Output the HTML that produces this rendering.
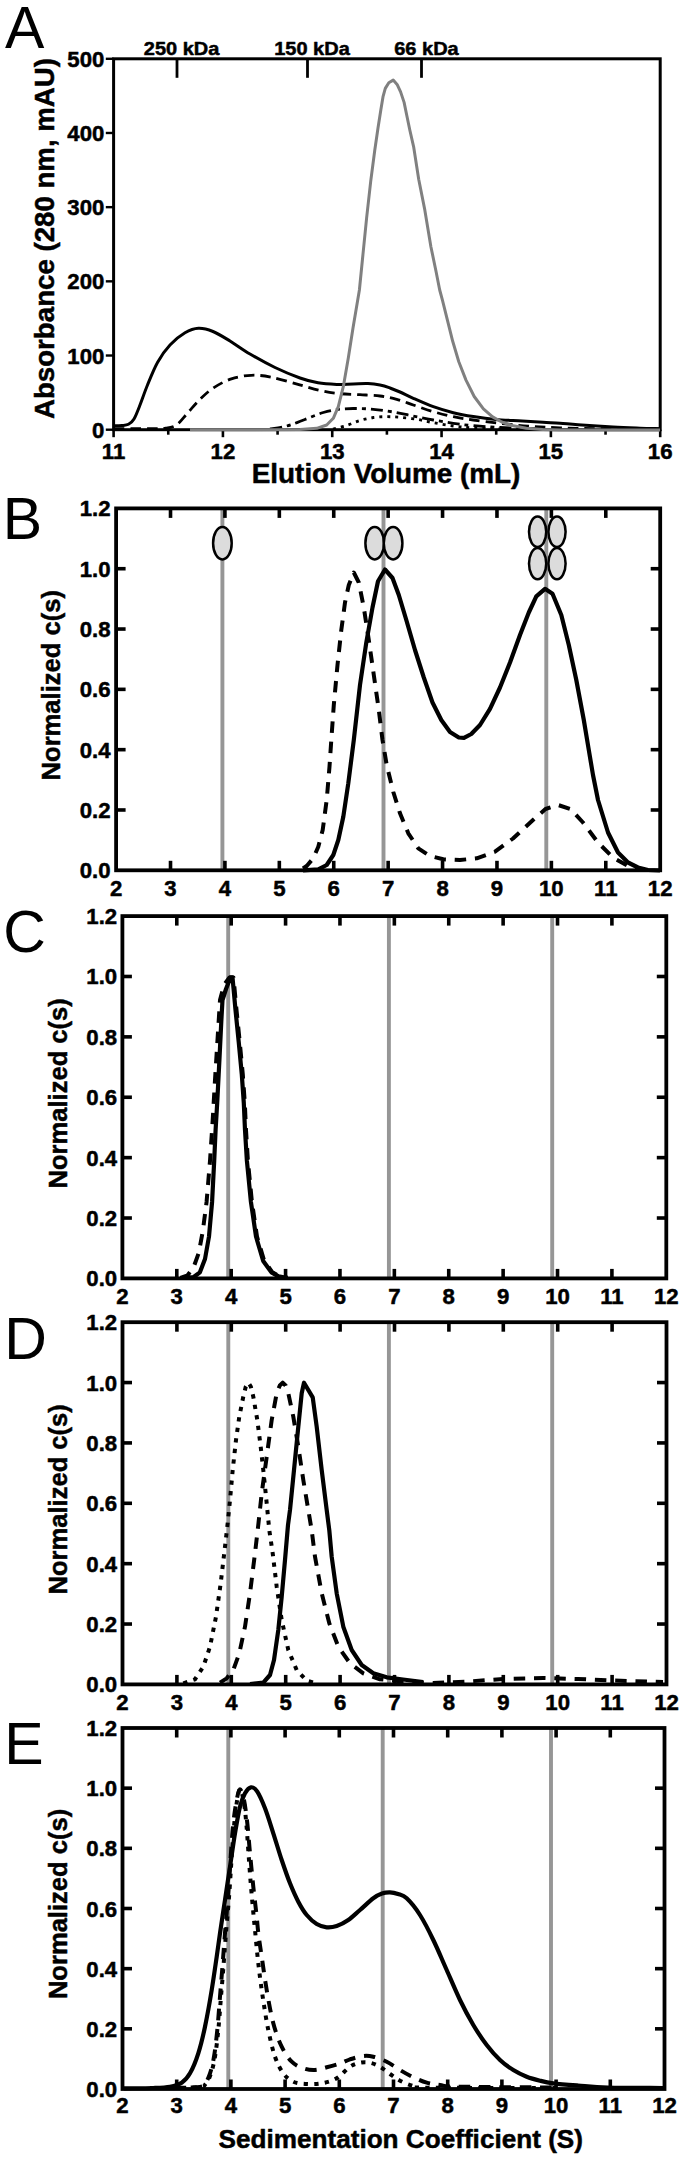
<!DOCTYPE html>
<html><head><meta charset="utf-8"><title>Figure</title>
<style>html,body{margin:0;padding:0;background:#fff}svg{display:block;font-family:"Liberation Sans",Arial,Helvetica,sans-serif}</style></head>
<body>
<svg width="685" height="2167" viewBox="0 0 685 2167">
<rect x="0" y="0" width="685" height="2167" fill="#fff"/>
<text x="5" y="48" font-size="59" text-anchor="start" >A</text>
<rect x="113.6" y="58.8" width="546.6" height="370.9" fill="none" stroke="#000" stroke-width="3"/>
<line x1="105.8" y1="429.7" x2="113.6" y2="429.7" stroke="#000" stroke-width="2.4" stroke-linecap="butt"/>
<text x="104.4" y="437.7" font-size="22.2" text-anchor="end" font-weight="bold" stroke="#000" stroke-width="0.5" stroke-linejoin="round" >0</text>
<line x1="105.8" y1="355.52" x2="113.6" y2="355.52" stroke="#000" stroke-width="2.4" stroke-linecap="butt"/>
<text x="104.4" y="363.52" font-size="22.2" text-anchor="end" font-weight="bold" stroke="#000" stroke-width="0.5" stroke-linejoin="round" >100</text>
<line x1="105.8" y1="281.34" x2="113.6" y2="281.34" stroke="#000" stroke-width="2.4" stroke-linecap="butt"/>
<text x="104.4" y="289.34" font-size="22.2" text-anchor="end" font-weight="bold" stroke="#000" stroke-width="0.5" stroke-linejoin="round" >200</text>
<line x1="105.8" y1="207.16" x2="113.6" y2="207.16" stroke="#000" stroke-width="2.4" stroke-linecap="butt"/>
<text x="104.4" y="215.16" font-size="22.2" text-anchor="end" font-weight="bold" stroke="#000" stroke-width="0.5" stroke-linejoin="round" >300</text>
<line x1="105.8" y1="132.97999999999996" x2="113.6" y2="132.97999999999996" stroke="#000" stroke-width="2.4" stroke-linecap="butt"/>
<text x="104.4" y="140.97999999999996" font-size="22.2" text-anchor="end" font-weight="bold" stroke="#000" stroke-width="0.5" stroke-linejoin="round" >400</text>
<line x1="105.8" y1="58.80000000000001" x2="113.6" y2="58.80000000000001" stroke="#000" stroke-width="2.4" stroke-linecap="butt"/>
<text x="104.4" y="66.80000000000001" font-size="22.2" text-anchor="end" font-weight="bold" stroke="#000" stroke-width="0.5" stroke-linejoin="round" >500</text>
<line x1="113.6" y1="429.7" x2="113.6" y2="437.2" stroke="#000" stroke-width="2.6" stroke-linecap="butt"/>
<text x="113.6" y="458.7" font-size="22.2" text-anchor="middle" font-weight="bold" stroke="#000" stroke-width="0.5" stroke-linejoin="round" >11</text>
<line x1="168.26" y1="429.7" x2="168.26" y2="434.7" stroke="#000" stroke-width="2.6" stroke-linecap="butt"/>
<line x1="222.92000000000002" y1="429.7" x2="222.92000000000002" y2="437.2" stroke="#000" stroke-width="2.6" stroke-linecap="butt"/>
<text x="222.92000000000002" y="458.7" font-size="22.2" text-anchor="middle" font-weight="bold" stroke="#000" stroke-width="0.5" stroke-linejoin="round" >12</text>
<line x1="277.58000000000004" y1="429.7" x2="277.58000000000004" y2="434.7" stroke="#000" stroke-width="2.6" stroke-linecap="butt"/>
<line x1="332.24" y1="429.7" x2="332.24" y2="437.2" stroke="#000" stroke-width="2.6" stroke-linecap="butt"/>
<text x="332.24" y="458.7" font-size="22.2" text-anchor="middle" font-weight="bold" stroke="#000" stroke-width="0.5" stroke-linejoin="round" >13</text>
<line x1="386.9" y1="429.7" x2="386.9" y2="434.7" stroke="#000" stroke-width="2.6" stroke-linecap="butt"/>
<line x1="441.56000000000006" y1="429.7" x2="441.56000000000006" y2="437.2" stroke="#000" stroke-width="2.6" stroke-linecap="butt"/>
<text x="441.56000000000006" y="458.7" font-size="22.2" text-anchor="middle" font-weight="bold" stroke="#000" stroke-width="0.5" stroke-linejoin="round" >14</text>
<line x1="496.22" y1="429.7" x2="496.22" y2="434.7" stroke="#000" stroke-width="2.6" stroke-linecap="butt"/>
<line x1="550.88" y1="429.7" x2="550.88" y2="437.2" stroke="#000" stroke-width="2.6" stroke-linecap="butt"/>
<text x="550.88" y="458.7" font-size="22.2" text-anchor="middle" font-weight="bold" stroke="#000" stroke-width="0.5" stroke-linejoin="round" >15</text>
<line x1="605.5400000000001" y1="429.7" x2="605.5400000000001" y2="434.7" stroke="#000" stroke-width="2.6" stroke-linecap="butt"/>
<line x1="660.2" y1="429.7" x2="660.2" y2="437.2" stroke="#000" stroke-width="2.6" stroke-linecap="butt"/>
<text x="660.2" y="458.7" font-size="22.2" text-anchor="middle" font-weight="bold" stroke="#000" stroke-width="0.5" stroke-linejoin="round" >16</text>
<line x1="177" y1="58.8" x2="177" y2="77.8" stroke="#000" stroke-width="2.8" stroke-linecap="butt"/>
<text x="181.6" y="55" font-size="18.6" text-anchor="middle" font-weight="bold" stroke="#000" stroke-width="0.5" stroke-linejoin="round" textLength="75.5" lengthAdjust="spacingAndGlyphs" >250 kDa</text>
<line x1="307.5" y1="58.8" x2="307.5" y2="77.8" stroke="#000" stroke-width="2.8" stroke-linecap="butt"/>
<text x="312" y="55" font-size="18.6" text-anchor="middle" font-weight="bold" stroke="#000" stroke-width="0.5" stroke-linejoin="round" textLength="75.5" lengthAdjust="spacingAndGlyphs" >150 kDa</text>
<line x1="421.5" y1="58.8" x2="421.5" y2="77.8" stroke="#000" stroke-width="2.8" stroke-linecap="butt"/>
<text x="426.5" y="55" font-size="18.6" text-anchor="middle" font-weight="bold" stroke="#000" stroke-width="0.5" stroke-linejoin="round" textLength="64.5" lengthAdjust="spacingAndGlyphs" >66 kDa</text>
<text x="54.3" y="419" font-size="28" text-anchor="start" font-weight="bold" stroke="#000" stroke-width="0.5" stroke-linejoin="round" textLength="361" lengthAdjust="spacingAndGlyphs" transform="rotate(-90 54.3 419)" >Absorbance (280 nm, mAU)</text>
<text x="251.8" y="483" font-size="27.6" text-anchor="start" font-weight="bold" stroke="#000" stroke-width="0.5" stroke-linejoin="round" textLength="268.6" lengthAdjust="spacingAndGlyphs" >Elution Volume (mL)</text>
<path d="M333.0,429.0C335.3,428.4 342.2,426.9 346.7,425.5C351.2,424.1 355.6,421.8 360.0,420.5C364.4,419.2 368.9,418.1 373.3,417.5C377.8,416.9 382.2,416.7 386.7,416.7C391.1,416.7 395.0,416.9 400.0,417.3C405.0,417.7 411.1,418.4 416.7,419.3C422.2,420.2 427.2,421.6 433.3,422.7C439.4,423.8 446.6,425.1 453.3,426.0C460.0,426.9 465.5,427.5 473.3,428.0C481.1,428.5 495.6,428.8 500.0,429.0" fill="none" stroke="#000" stroke-width="2.8" stroke-linejoin="round" stroke-linecap="butt" stroke-dasharray="3 5"/>
<path d="M270.0,429.0C272.5,428.6 280.5,427.6 285.0,426.5C289.5,425.4 292.8,424.1 297.0,422.6C301.2,421.1 305.6,419.2 310.0,417.5C314.4,415.8 318.9,413.8 323.3,412.5C327.8,411.2 331.7,410.3 336.7,409.6C341.7,408.9 347.2,408.6 353.3,408.5C359.4,408.4 366.6,408.7 373.3,409.3C380.0,409.9 386.6,410.9 393.3,412.0C400.0,413.1 406.6,414.7 413.3,416.0C420.0,417.3 426.6,418.8 433.3,420.0C440.0,421.2 446.6,422.4 453.3,423.3C460.0,424.2 465.5,425.0 473.3,425.7C481.1,426.4 488.9,427.0 500.0,427.5C511.1,428.0 533.3,428.6 540.0,428.8" fill="none" stroke="#000" stroke-width="2.8" stroke-linejoin="round" stroke-linecap="butt" stroke-dasharray="12 5 4 5"/>
<path d="M114.0,428.6C120.0,428.6 141.4,428.7 150.0,428.6C158.6,428.5 161.2,428.8 165.7,428.2C170.1,427.6 173.0,427.3 176.7,424.8C180.3,422.3 183.6,417.4 187.6,413.0C191.6,408.6 196.3,402.8 200.7,398.6C205.1,394.4 208.8,390.9 213.9,387.6C219.0,384.3 225.2,380.9 231.4,378.8C237.6,376.8 244.5,375.6 251.1,375.3C257.7,375.0 263.1,375.6 270.8,377.1C278.5,378.6 288.9,381.9 297.1,384.1C305.3,386.3 312.9,388.9 320.0,390.5C327.1,392.1 333.3,393.0 340.0,393.7C346.7,394.4 353.3,394.3 360.0,394.7C366.7,395.1 373.9,395.2 380.0,396.0C386.1,396.8 391.1,397.8 396.7,399.3C402.2,400.8 407.2,402.9 413.3,405.0C419.4,407.1 426.6,409.8 433.3,411.7C440.0,413.6 446.6,415.3 453.3,416.7C460.0,418.1 465.5,418.9 473.3,420.0C481.1,421.1 490.8,422.3 500.0,423.3C509.2,424.3 518.3,425.4 528.3,426.2C538.3,426.9 548.0,427.4 560.0,427.8C572.0,428.2 583.3,428.4 600.0,428.6C616.7,428.8 650.0,428.9 660.0,429.0" fill="none" stroke="#000" stroke-width="2.8" stroke-linejoin="round" stroke-linecap="butt" stroke-dasharray="10.5 6"/>
<path d="M114.0,425.7C115.3,425.7 119.6,425.7 122.0,425.5C124.4,425.3 126.5,425.4 128.5,424.3C130.5,423.2 132.1,422.2 134.0,419.0C135.9,415.8 137.8,410.7 140.0,405.0C142.2,399.3 144.6,392.1 147.5,385.0C150.4,377.9 153.8,369.2 157.5,362.5C161.2,355.8 165.4,349.9 170.0,345.0C174.6,340.1 180.2,335.6 185.0,332.8C189.8,330.0 193.8,328.5 198.5,328.3C203.2,328.1 207.8,329.4 213.0,331.5C218.2,333.6 223.8,337.2 230.0,341.0C236.2,344.8 242.5,349.6 250.0,354.0C257.5,358.4 266.7,363.5 275.0,367.5C283.3,371.5 292.8,375.4 300.0,378.0C307.2,380.6 311.9,381.7 318.0,382.8C324.1,383.9 330.8,384.2 336.7,384.4C342.6,384.6 348.1,384.0 353.3,383.9C358.5,383.8 363.6,383.4 368.0,383.6C372.4,383.8 376.3,384.3 380.0,385.0C383.7,385.7 386.7,386.8 390.0,388.0C393.3,389.2 396.1,390.3 400.0,392.0C403.9,393.7 407.8,395.9 413.3,398.3C418.9,400.8 426.6,404.3 433.3,406.7C440.0,409.1 446.6,411.0 453.3,412.7C460.0,414.4 466.2,415.5 473.3,416.6C480.4,417.7 487.5,418.7 495.6,419.4C503.8,420.1 514.3,420.5 522.2,421.0C530.1,421.5 536.7,421.8 543.0,422.2C549.3,422.6 554.2,422.8 560.0,423.2C565.8,423.6 569.2,424.2 578.0,424.8C586.8,425.4 602.7,426.4 613.0,427.0C623.3,427.6 632.2,427.9 640.0,428.2C647.8,428.5 656.7,428.6 660.0,428.7" fill="none" stroke="#000" stroke-width="3" stroke-linejoin="round" stroke-linecap="butt"/>
<path d="M190.0,429.8L250.0,429.8L300.0,429.4L316.7,428.3L326.7,425.0L333.3,418.3L338.3,406.7L343.3,386.7L348.3,358.0L353.0,328.0L359.4,290.0L362.5,259.0L366.6,218.1L370.7,181.3L374.7,150.7L378.0,128.0L380.9,109.4L383.1,96.3L385.3,88.4L388.8,82.7L393.2,80.1L397.1,84.4L400.6,91.9L404.1,102.4L406.8,115.5L409.8,130.0L413.6,146.6L418.7,179.3L424.8,209.9L430.9,246.7L436.0,271.2L439.7,290.0L442.5,300.4L447.6,320.9L452.7,341.3L458.8,361.8L466.0,380.1L474.2,396.5L483.4,408.8L492.6,416.9L501.8,422.0L512.0,425.5L526.3,428.2L542.6,429.6L560.0,430.0L600.0,430.0L660.0,430.0" fill="none" stroke="#808080" stroke-width="3" stroke-linejoin="round" stroke-linecap="butt"/>
<line x1="222.4" y1="508.4" x2="222.4" y2="870.3" stroke="#969696" stroke-width="3.9" stroke-linecap="butt"/>
<line x1="383.5" y1="508.4" x2="383.5" y2="870.3" stroke="#969696" stroke-width="3.9" stroke-linecap="butt"/>
<line x1="546.3" y1="508.4" x2="546.3" y2="870.3" stroke="#969696" stroke-width="3.9" stroke-linecap="butt"/>
<path d="M303.0,868.5L306.7,866.0L313.3,858.3L318.3,846.7L322.7,830.0L326.7,800.0L329.5,766.7L331.3,740.0L333.8,705.0L337.5,665.0L341.3,630.0L345.0,602.5L348.8,585.0L353.8,572.5L358.8,582.5L363.8,607.5L368.8,640.0L373.8,675.0L378.8,710.0L382.5,740.0L386.7,765.0L393.3,792.0L400.0,813.3L408.3,833.3L418.3,848.3L430.0,856.0L443.3,859.3L460.0,860.0L476.7,858.3L495.0,851.7L513.0,838.5L533.0,820.0L545.5,809.0L558.0,805.0L570.5,809.0L583.0,822.5L598.0,842.5L613.0,857.5L628.0,866.0L643.0,870.0" fill="none" stroke="#000" stroke-width="4" stroke-linejoin="round" stroke-linecap="butt" stroke-dasharray="11.5 8.8"/>
<path d="M303.0,870.3L318.3,869.3L326.7,865.0L333.3,855.0L338.3,840.0L343.3,816.7L348.3,783.3L353.8,740.0L360.0,685.0L366.3,642.5L372.5,607.5L378.0,581.3L385.0,569.5L392.5,578.0L398.8,595.0L406.3,620.0L415.0,650.0L423.8,677.5L432.5,702.5L441.3,720.0L450.0,732.0L458.8,737.5L464.0,737.8L471.3,734.0L480.0,725.0L490.0,708.8L500.0,687.5L510.0,662.5L520.0,635.0L528.8,612.5L536.3,596.3L545.0,588.8L552.5,593.8L561.3,615.0L568.8,645.0L576.3,680.0L583.8,720.0L588.8,750.0L593.0,775.0L598.0,800.0L608.0,832.5L618.0,852.5L628.0,862.5L638.0,867.5L648.0,870.0L660.0,870.5" fill="none" stroke="#000" stroke-width="4.2" stroke-linejoin="round" stroke-linecap="butt"/>
<ellipse cx="222.4" cy="543.2" rx="9.3" ry="16.2" fill="#dcdcdc" stroke="#000" stroke-width="2.5"/>
<ellipse cx="374.7" cy="543.2" rx="9.3" ry="16.2" fill="#dcdcdc" stroke="#000" stroke-width="2.5"/>
<ellipse cx="393.1" cy="543.2" rx="9.3" ry="16.2" fill="#dcdcdc" stroke="#000" stroke-width="2.5"/>
<ellipse cx="537.6" cy="563.6" rx="8.6" ry="15.6" fill="#dcdcdc" stroke="#000" stroke-width="2.5"/>
<ellipse cx="557" cy="563.6" rx="8.6" ry="15.6" fill="#dcdcdc" stroke="#000" stroke-width="2.5"/>
<ellipse cx="537.6" cy="531.8" rx="8.6" ry="15.2" fill="#dcdcdc" stroke="#000" stroke-width="2.5"/>
<ellipse cx="557" cy="531.8" rx="8.6" ry="15.2" fill="#dcdcdc" stroke="#000" stroke-width="2.5"/>
<rect x="116.1" y="508.4" width="544.1" height="361.9" fill="none" stroke="#000" stroke-width="3.8"/>
<line x1="170.51" y1="508.4" x2="170.51" y2="517.9" stroke="#000" stroke-width="3.6" stroke-linecap="butt"/>
<line x1="170.51" y1="870.3" x2="170.51" y2="860.8" stroke="#000" stroke-width="3.6" stroke-linecap="butt"/>
<line x1="224.92000000000002" y1="508.4" x2="224.92000000000002" y2="517.9" stroke="#000" stroke-width="3.6" stroke-linecap="butt"/>
<line x1="224.92000000000002" y1="870.3" x2="224.92000000000002" y2="860.8" stroke="#000" stroke-width="3.6" stroke-linecap="butt"/>
<line x1="279.33000000000004" y1="508.4" x2="279.33000000000004" y2="517.9" stroke="#000" stroke-width="3.6" stroke-linecap="butt"/>
<line x1="279.33000000000004" y1="870.3" x2="279.33000000000004" y2="860.8" stroke="#000" stroke-width="3.6" stroke-linecap="butt"/>
<line x1="333.74" y1="508.4" x2="333.74" y2="517.9" stroke="#000" stroke-width="3.6" stroke-linecap="butt"/>
<line x1="333.74" y1="870.3" x2="333.74" y2="860.8" stroke="#000" stroke-width="3.6" stroke-linecap="butt"/>
<line x1="388.15" y1="508.4" x2="388.15" y2="517.9" stroke="#000" stroke-width="3.6" stroke-linecap="butt"/>
<line x1="388.15" y1="870.3" x2="388.15" y2="860.8" stroke="#000" stroke-width="3.6" stroke-linecap="butt"/>
<line x1="442.56000000000006" y1="508.4" x2="442.56000000000006" y2="517.9" stroke="#000" stroke-width="3.6" stroke-linecap="butt"/>
<line x1="442.56000000000006" y1="870.3" x2="442.56000000000006" y2="860.8" stroke="#000" stroke-width="3.6" stroke-linecap="butt"/>
<line x1="496.97" y1="508.4" x2="496.97" y2="517.9" stroke="#000" stroke-width="3.6" stroke-linecap="butt"/>
<line x1="496.97" y1="870.3" x2="496.97" y2="860.8" stroke="#000" stroke-width="3.6" stroke-linecap="butt"/>
<line x1="551.38" y1="508.4" x2="551.38" y2="517.9" stroke="#000" stroke-width="3.6" stroke-linecap="butt"/>
<line x1="551.38" y1="870.3" x2="551.38" y2="860.8" stroke="#000" stroke-width="3.6" stroke-linecap="butt"/>
<line x1="605.7900000000001" y1="508.4" x2="605.7900000000001" y2="517.9" stroke="#000" stroke-width="3.6" stroke-linecap="butt"/>
<line x1="605.7900000000001" y1="870.3" x2="605.7900000000001" y2="860.8" stroke="#000" stroke-width="3.6" stroke-linecap="butt"/>
<line x1="116.1" y1="809.9833333333333" x2="125.6" y2="809.9833333333333" stroke="#000" stroke-width="3.6" stroke-linecap="butt"/>
<line x1="660.2" y1="809.9833333333333" x2="650.7" y2="809.9833333333333" stroke="#000" stroke-width="3.6" stroke-linecap="butt"/>
<line x1="116.1" y1="749.6666666666666" x2="125.6" y2="749.6666666666666" stroke="#000" stroke-width="3.6" stroke-linecap="butt"/>
<line x1="660.2" y1="749.6666666666666" x2="650.7" y2="749.6666666666666" stroke="#000" stroke-width="3.6" stroke-linecap="butt"/>
<line x1="116.1" y1="689.3499999999999" x2="125.6" y2="689.3499999999999" stroke="#000" stroke-width="3.6" stroke-linecap="butt"/>
<line x1="660.2" y1="689.3499999999999" x2="650.7" y2="689.3499999999999" stroke="#000" stroke-width="3.6" stroke-linecap="butt"/>
<line x1="116.1" y1="629.0333333333333" x2="125.6" y2="629.0333333333333" stroke="#000" stroke-width="3.6" stroke-linecap="butt"/>
<line x1="660.2" y1="629.0333333333333" x2="650.7" y2="629.0333333333333" stroke="#000" stroke-width="3.6" stroke-linecap="butt"/>
<line x1="116.1" y1="568.7166666666667" x2="125.6" y2="568.7166666666667" stroke="#000" stroke-width="3.6" stroke-linecap="butt"/>
<line x1="660.2" y1="568.7166666666667" x2="650.7" y2="568.7166666666667" stroke="#000" stroke-width="3.6" stroke-linecap="butt"/>
<text x="116.1" y="895.9" font-size="22.2" text-anchor="middle" font-weight="bold" stroke="#000" stroke-width="0.5" stroke-linejoin="round" >2</text>
<text x="170.51" y="895.9" font-size="22.2" text-anchor="middle" font-weight="bold" stroke="#000" stroke-width="0.5" stroke-linejoin="round" >3</text>
<text x="224.92000000000002" y="895.9" font-size="22.2" text-anchor="middle" font-weight="bold" stroke="#000" stroke-width="0.5" stroke-linejoin="round" >4</text>
<text x="279.33000000000004" y="895.9" font-size="22.2" text-anchor="middle" font-weight="bold" stroke="#000" stroke-width="0.5" stroke-linejoin="round" >5</text>
<text x="333.74" y="895.9" font-size="22.2" text-anchor="middle" font-weight="bold" stroke="#000" stroke-width="0.5" stroke-linejoin="round" >6</text>
<text x="388.15" y="895.9" font-size="22.2" text-anchor="middle" font-weight="bold" stroke="#000" stroke-width="0.5" stroke-linejoin="round" >7</text>
<text x="442.56000000000006" y="895.9" font-size="22.2" text-anchor="middle" font-weight="bold" stroke="#000" stroke-width="0.5" stroke-linejoin="round" >8</text>
<text x="496.97" y="895.9" font-size="22.2" text-anchor="middle" font-weight="bold" stroke="#000" stroke-width="0.5" stroke-linejoin="round" >9</text>
<text x="551.38" y="895.9" font-size="22.2" text-anchor="middle" font-weight="bold" stroke="#000" stroke-width="0.5" stroke-linejoin="round" >10</text>
<text x="605.7900000000001" y="895.9" font-size="22.2" text-anchor="middle" font-weight="bold" stroke="#000" stroke-width="0.5" stroke-linejoin="round" >11</text>
<text x="660.2" y="895.9" font-size="22.2" text-anchor="middle" font-weight="bold" stroke="#000" stroke-width="0.5" stroke-linejoin="round" >12</text>
<text x="110.6" y="878.3" font-size="22.2" text-anchor="end" font-weight="bold" stroke="#000" stroke-width="0.5" stroke-linejoin="round" >0.0</text>
<text x="110.6" y="817.9833333333333" font-size="22.2" text-anchor="end" font-weight="bold" stroke="#000" stroke-width="0.5" stroke-linejoin="round" >0.2</text>
<text x="110.6" y="757.6666666666666" font-size="22.2" text-anchor="end" font-weight="bold" stroke="#000" stroke-width="0.5" stroke-linejoin="round" >0.4</text>
<text x="110.6" y="697.3499999999999" font-size="22.2" text-anchor="end" font-weight="bold" stroke="#000" stroke-width="0.5" stroke-linejoin="round" >0.6</text>
<text x="110.6" y="637.0333333333333" font-size="22.2" text-anchor="end" font-weight="bold" stroke="#000" stroke-width="0.5" stroke-linejoin="round" >0.8</text>
<text x="110.6" y="576.7166666666667" font-size="22.2" text-anchor="end" font-weight="bold" stroke="#000" stroke-width="0.5" stroke-linejoin="round" >1.0</text>
<text x="110.6" y="516.3999999999999" font-size="22.2" text-anchor="end" font-weight="bold" stroke="#000" stroke-width="0.5" stroke-linejoin="round" >1.2</text>
<text x="2.8" y="538.5" font-size="59" text-anchor="start" >B</text>
<text x="60.4" y="780.4" font-size="26.4" text-anchor="start" font-weight="bold" stroke="#000" stroke-width="0.5" stroke-linejoin="round" textLength="190.3" lengthAdjust="spacingAndGlyphs" transform="rotate(-90 60.4 780.4)" >Normalized c(s)</text>
<line x1="228.2" y1="916.1" x2="228.2" y2="1278.4" stroke="#969696" stroke-width="3.9" stroke-linecap="butt"/>
<line x1="388.9" y1="916.1" x2="388.9" y2="1278.4" stroke="#969696" stroke-width="3.9" stroke-linecap="butt"/>
<line x1="552.2" y1="916.1" x2="552.2" y2="1278.4" stroke="#969696" stroke-width="3.9" stroke-linecap="butt"/>
<path d="M180.4,1277.8L187.6,1275.3L193.7,1267.0L198.8,1252.8L202.9,1230.4L206.6,1201.7L210.0,1160.9L212.7,1120.0L215.0,1080.0L217.5,1040.0L220.0,1000.0L224.0,985.0L229.5,977.4L233.5,977.4L236.6,1011.0L239.7,1041.7L242.8,1074.5L244.8,1103.0L246.0,1130.0L247.9,1160.9L251.9,1201.7L257.0,1236.5L264.2,1261.0L272.4,1272.3L279.5,1276.3L287.7,1277.8" fill="none" stroke="#000" stroke-width="4" stroke-linejoin="round" stroke-linecap="butt" stroke-dasharray="11.5 8.8"/>
<path d="M184.5,1277.8L193.7,1277.0L199.9,1272.3L205.0,1259.0L209.0,1236.5L212.1,1201.7L214.2,1160.9L215.6,1130.0L217.2,1103.0L219.3,1062.2L221.3,1021.3L222.5,1000.0L226.0,989.0L230.5,977.4L232.5,977.4L235.6,1011.0L238.7,1041.7L241.8,1074.5L243.8,1103.0L245.0,1130.0L246.9,1160.9L250.9,1201.7L256.0,1236.5L263.2,1261.0L271.4,1272.3L278.5,1276.3L286.7,1277.8" fill="none" stroke="#000" stroke-width="4.2" stroke-linejoin="round" stroke-linecap="butt"/>
<rect x="122.4" y="916.1" width="543.9" height="362.30000000000007" fill="none" stroke="#000" stroke-width="3.8"/>
<line x1="176.79000000000002" y1="916.1" x2="176.79000000000002" y2="925.6" stroke="#000" stroke-width="3.6" stroke-linecap="butt"/>
<line x1="176.79000000000002" y1="1278.4" x2="176.79000000000002" y2="1268.9" stroke="#000" stroke-width="3.6" stroke-linecap="butt"/>
<line x1="231.18" y1="916.1" x2="231.18" y2="925.6" stroke="#000" stroke-width="3.6" stroke-linecap="butt"/>
<line x1="231.18" y1="1278.4" x2="231.18" y2="1268.9" stroke="#000" stroke-width="3.6" stroke-linecap="butt"/>
<line x1="285.57" y1="916.1" x2="285.57" y2="925.6" stroke="#000" stroke-width="3.6" stroke-linecap="butt"/>
<line x1="285.57" y1="1278.4" x2="285.57" y2="1268.9" stroke="#000" stroke-width="3.6" stroke-linecap="butt"/>
<line x1="339.96000000000004" y1="916.1" x2="339.96000000000004" y2="925.6" stroke="#000" stroke-width="3.6" stroke-linecap="butt"/>
<line x1="339.96000000000004" y1="1278.4" x2="339.96000000000004" y2="1268.9" stroke="#000" stroke-width="3.6" stroke-linecap="butt"/>
<line x1="394.35" y1="916.1" x2="394.35" y2="925.6" stroke="#000" stroke-width="3.6" stroke-linecap="butt"/>
<line x1="394.35" y1="1278.4" x2="394.35" y2="1268.9" stroke="#000" stroke-width="3.6" stroke-linecap="butt"/>
<line x1="448.74" y1="916.1" x2="448.74" y2="925.6" stroke="#000" stroke-width="3.6" stroke-linecap="butt"/>
<line x1="448.74" y1="1278.4" x2="448.74" y2="1268.9" stroke="#000" stroke-width="3.6" stroke-linecap="butt"/>
<line x1="503.13" y1="916.1" x2="503.13" y2="925.6" stroke="#000" stroke-width="3.6" stroke-linecap="butt"/>
<line x1="503.13" y1="1278.4" x2="503.13" y2="1268.9" stroke="#000" stroke-width="3.6" stroke-linecap="butt"/>
<line x1="557.52" y1="916.1" x2="557.52" y2="925.6" stroke="#000" stroke-width="3.6" stroke-linecap="butt"/>
<line x1="557.52" y1="1278.4" x2="557.52" y2="1268.9" stroke="#000" stroke-width="3.6" stroke-linecap="butt"/>
<line x1="611.91" y1="916.1" x2="611.91" y2="925.6" stroke="#000" stroke-width="3.6" stroke-linecap="butt"/>
<line x1="611.91" y1="1278.4" x2="611.91" y2="1268.9" stroke="#000" stroke-width="3.6" stroke-linecap="butt"/>
<line x1="122.4" y1="1218.0166666666667" x2="131.9" y2="1218.0166666666667" stroke="#000" stroke-width="3.6" stroke-linecap="butt"/>
<line x1="666.3" y1="1218.0166666666667" x2="656.8" y2="1218.0166666666667" stroke="#000" stroke-width="3.6" stroke-linecap="butt"/>
<line x1="122.4" y1="1157.6333333333334" x2="131.9" y2="1157.6333333333334" stroke="#000" stroke-width="3.6" stroke-linecap="butt"/>
<line x1="666.3" y1="1157.6333333333334" x2="656.8" y2="1157.6333333333334" stroke="#000" stroke-width="3.6" stroke-linecap="butt"/>
<line x1="122.4" y1="1097.25" x2="131.9" y2="1097.25" stroke="#000" stroke-width="3.6" stroke-linecap="butt"/>
<line x1="666.3" y1="1097.25" x2="656.8" y2="1097.25" stroke="#000" stroke-width="3.6" stroke-linecap="butt"/>
<line x1="122.4" y1="1036.8666666666668" x2="131.9" y2="1036.8666666666668" stroke="#000" stroke-width="3.6" stroke-linecap="butt"/>
<line x1="666.3" y1="1036.8666666666668" x2="656.8" y2="1036.8666666666668" stroke="#000" stroke-width="3.6" stroke-linecap="butt"/>
<line x1="122.4" y1="976.4833333333333" x2="131.9" y2="976.4833333333333" stroke="#000" stroke-width="3.6" stroke-linecap="butt"/>
<line x1="666.3" y1="976.4833333333333" x2="656.8" y2="976.4833333333333" stroke="#000" stroke-width="3.6" stroke-linecap="butt"/>
<text x="122.4" y="1304.2" font-size="22.2" text-anchor="middle" font-weight="bold" stroke="#000" stroke-width="0.5" stroke-linejoin="round" >2</text>
<text x="176.79000000000002" y="1304.2" font-size="22.2" text-anchor="middle" font-weight="bold" stroke="#000" stroke-width="0.5" stroke-linejoin="round" >3</text>
<text x="231.18" y="1304.2" font-size="22.2" text-anchor="middle" font-weight="bold" stroke="#000" stroke-width="0.5" stroke-linejoin="round" >4</text>
<text x="285.57" y="1304.2" font-size="22.2" text-anchor="middle" font-weight="bold" stroke="#000" stroke-width="0.5" stroke-linejoin="round" >5</text>
<text x="339.96000000000004" y="1304.2" font-size="22.2" text-anchor="middle" font-weight="bold" stroke="#000" stroke-width="0.5" stroke-linejoin="round" >6</text>
<text x="394.35" y="1304.2" font-size="22.2" text-anchor="middle" font-weight="bold" stroke="#000" stroke-width="0.5" stroke-linejoin="round" >7</text>
<text x="448.74" y="1304.2" font-size="22.2" text-anchor="middle" font-weight="bold" stroke="#000" stroke-width="0.5" stroke-linejoin="round" >8</text>
<text x="503.13" y="1304.2" font-size="22.2" text-anchor="middle" font-weight="bold" stroke="#000" stroke-width="0.5" stroke-linejoin="round" >9</text>
<text x="557.52" y="1304.2" font-size="22.2" text-anchor="middle" font-weight="bold" stroke="#000" stroke-width="0.5" stroke-linejoin="round" >10</text>
<text x="611.91" y="1304.2" font-size="22.2" text-anchor="middle" font-weight="bold" stroke="#000" stroke-width="0.5" stroke-linejoin="round" >11</text>
<text x="666.3" y="1304.2" font-size="22.2" text-anchor="middle" font-weight="bold" stroke="#000" stroke-width="0.5" stroke-linejoin="round" >12</text>
<text x="117.2" y="1286.4" font-size="22.2" text-anchor="end" font-weight="bold" stroke="#000" stroke-width="0.5" stroke-linejoin="round" >0.0</text>
<text x="117.2" y="1226.0166666666667" font-size="22.2" text-anchor="end" font-weight="bold" stroke="#000" stroke-width="0.5" stroke-linejoin="round" >0.2</text>
<text x="117.2" y="1165.6333333333334" font-size="22.2" text-anchor="end" font-weight="bold" stroke="#000" stroke-width="0.5" stroke-linejoin="round" >0.4</text>
<text x="117.2" y="1105.25" font-size="22.2" text-anchor="end" font-weight="bold" stroke="#000" stroke-width="0.5" stroke-linejoin="round" >0.6</text>
<text x="117.2" y="1044.8666666666668" font-size="22.2" text-anchor="end" font-weight="bold" stroke="#000" stroke-width="0.5" stroke-linejoin="round" >0.8</text>
<text x="117.2" y="984.4833333333333" font-size="22.2" text-anchor="end" font-weight="bold" stroke="#000" stroke-width="0.5" stroke-linejoin="round" >1.0</text>
<text x="117.2" y="924.0999999999999" font-size="22.2" text-anchor="end" font-weight="bold" stroke="#000" stroke-width="0.5" stroke-linejoin="round" >1.2</text>
<text x="3.3" y="952" font-size="59" text-anchor="start" >C</text>
<text x="66.7" y="1188.5" font-size="26.4" text-anchor="start" font-weight="bold" stroke="#000" stroke-width="0.5" stroke-linejoin="round" textLength="190.3" lengthAdjust="spacingAndGlyphs" transform="rotate(-90 66.7 1188.5)" >Normalized c(s)</text>
<line x1="228.3" y1="1322.2" x2="228.3" y2="1684.4" stroke="#969696" stroke-width="3.9" stroke-linecap="butt"/>
<line x1="388.9" y1="1322.2" x2="388.9" y2="1684.4" stroke="#969696" stroke-width="3.9" stroke-linecap="butt"/>
<line x1="552.2" y1="1322.2" x2="552.2" y2="1684.4" stroke="#969696" stroke-width="3.9" stroke-linecap="butt"/>
<path d="M183.3,1683.3L195.0,1679.3L203.3,1666.7L210.0,1646.7L216.0,1616.7L220.7,1583.3L225.0,1546.7L227.7,1523.0L230.0,1500.0L232.7,1470.0L236.0,1440.0L239.3,1416.7L243.3,1396.7L245.8,1386.5L248.3,1382.7L250.8,1386.5L253.3,1396.7L257.3,1420.0L260.7,1446.7L264.0,1476.7L266.7,1503.3L269.3,1530.3L272.7,1553.3L276.7,1586.7L281.7,1620.0L288.3,1650.0L296.7,1670.0L306.7,1680.7L318.3,1684.0" fill="none" stroke="#000" stroke-width="4" stroke-linejoin="round" stroke-linecap="butt" stroke-dasharray="4.3 6.3"/>
<path d="M220.0,1682.7L226.7,1678.3L233.3,1670.0L239.3,1653.3L245.0,1626.7L250.0,1593.3L255.0,1553.3L258.5,1523.0L261.7,1493.3L266.7,1456.7L271.7,1420.0L276.7,1393.3L279.8,1385.5L282.7,1382.7L285.6,1385.5L288.3,1393.3L293.3,1416.7L298.3,1446.7L303.3,1480.0L308.3,1510.0L311.7,1530.3L315.0,1556.7L321.7,1593.3L329.3,1623.3L338.3,1646.7L350.0,1663.3L363.3,1673.3L380.0,1679.3L403.0,1681.5L433.0,1683.0L468.0,1681.5L503.0,1679.0L543.0,1678.0L578.0,1679.0L613.0,1680.5L663.0,1682.0" fill="none" stroke="#000" stroke-width="4" stroke-linejoin="round" stroke-linecap="butt" stroke-dasharray="11.5 8.8"/>
<path d="M250.0,1684.0L263.3,1682.7L270.0,1675.0L274.0,1660.0L278.3,1630.0L281.7,1596.7L285.0,1560.0L288.0,1525.0L290.0,1510.0L294.0,1470.0L298.3,1426.7L301.7,1393.3L304.0,1382.7L312.7,1397.3L316.7,1426.7L321.7,1470.0L326.7,1510.0L329.3,1530.3L331.7,1556.7L336.7,1593.3L343.3,1626.7L351.7,1650.0L361.7,1665.0L373.3,1673.3L386.7,1677.3L403.0,1679.5L423.0,1682.0" fill="none" stroke="#000" stroke-width="4.2" stroke-linejoin="round" stroke-linecap="butt"/>
<rect x="122.5" y="1322.2" width="544.0" height="362.20000000000005" fill="none" stroke="#000" stroke-width="3.8"/>
<line x1="176.9" y1="1322.2" x2="176.9" y2="1331.7" stroke="#000" stroke-width="3.6" stroke-linecap="butt"/>
<line x1="176.9" y1="1684.4" x2="176.9" y2="1674.9" stroke="#000" stroke-width="3.6" stroke-linecap="butt"/>
<line x1="231.3" y1="1322.2" x2="231.3" y2="1331.7" stroke="#000" stroke-width="3.6" stroke-linecap="butt"/>
<line x1="231.3" y1="1684.4" x2="231.3" y2="1674.9" stroke="#000" stroke-width="3.6" stroke-linecap="butt"/>
<line x1="285.7" y1="1322.2" x2="285.7" y2="1331.7" stroke="#000" stroke-width="3.6" stroke-linecap="butt"/>
<line x1="285.7" y1="1684.4" x2="285.7" y2="1674.9" stroke="#000" stroke-width="3.6" stroke-linecap="butt"/>
<line x1="340.1" y1="1322.2" x2="340.1" y2="1331.7" stroke="#000" stroke-width="3.6" stroke-linecap="butt"/>
<line x1="340.1" y1="1684.4" x2="340.1" y2="1674.9" stroke="#000" stroke-width="3.6" stroke-linecap="butt"/>
<line x1="394.5" y1="1322.2" x2="394.5" y2="1331.7" stroke="#000" stroke-width="3.6" stroke-linecap="butt"/>
<line x1="394.5" y1="1684.4" x2="394.5" y2="1674.9" stroke="#000" stroke-width="3.6" stroke-linecap="butt"/>
<line x1="448.9" y1="1322.2" x2="448.9" y2="1331.7" stroke="#000" stroke-width="3.6" stroke-linecap="butt"/>
<line x1="448.9" y1="1684.4" x2="448.9" y2="1674.9" stroke="#000" stroke-width="3.6" stroke-linecap="butt"/>
<line x1="503.3" y1="1322.2" x2="503.3" y2="1331.7" stroke="#000" stroke-width="3.6" stroke-linecap="butt"/>
<line x1="503.3" y1="1684.4" x2="503.3" y2="1674.9" stroke="#000" stroke-width="3.6" stroke-linecap="butt"/>
<line x1="557.7" y1="1322.2" x2="557.7" y2="1331.7" stroke="#000" stroke-width="3.6" stroke-linecap="butt"/>
<line x1="557.7" y1="1684.4" x2="557.7" y2="1674.9" stroke="#000" stroke-width="3.6" stroke-linecap="butt"/>
<line x1="612.1" y1="1322.2" x2="612.1" y2="1331.7" stroke="#000" stroke-width="3.6" stroke-linecap="butt"/>
<line x1="612.1" y1="1684.4" x2="612.1" y2="1674.9" stroke="#000" stroke-width="3.6" stroke-linecap="butt"/>
<line x1="122.5" y1="1624.0333333333333" x2="132.0" y2="1624.0333333333333" stroke="#000" stroke-width="3.6" stroke-linecap="butt"/>
<line x1="666.5" y1="1624.0333333333333" x2="657.0" y2="1624.0333333333333" stroke="#000" stroke-width="3.6" stroke-linecap="butt"/>
<line x1="122.5" y1="1563.6666666666667" x2="132.0" y2="1563.6666666666667" stroke="#000" stroke-width="3.6" stroke-linecap="butt"/>
<line x1="666.5" y1="1563.6666666666667" x2="657.0" y2="1563.6666666666667" stroke="#000" stroke-width="3.6" stroke-linecap="butt"/>
<line x1="122.5" y1="1503.3" x2="132.0" y2="1503.3" stroke="#000" stroke-width="3.6" stroke-linecap="butt"/>
<line x1="666.5" y1="1503.3" x2="657.0" y2="1503.3" stroke="#000" stroke-width="3.6" stroke-linecap="butt"/>
<line x1="122.5" y1="1442.9333333333334" x2="132.0" y2="1442.9333333333334" stroke="#000" stroke-width="3.6" stroke-linecap="butt"/>
<line x1="666.5" y1="1442.9333333333334" x2="657.0" y2="1442.9333333333334" stroke="#000" stroke-width="3.6" stroke-linecap="butt"/>
<line x1="122.5" y1="1382.5666666666666" x2="132.0" y2="1382.5666666666666" stroke="#000" stroke-width="3.6" stroke-linecap="butt"/>
<line x1="666.5" y1="1382.5666666666666" x2="657.0" y2="1382.5666666666666" stroke="#000" stroke-width="3.6" stroke-linecap="butt"/>
<text x="122.5" y="1709.7" font-size="22.2" text-anchor="middle" font-weight="bold" stroke="#000" stroke-width="0.5" stroke-linejoin="round" >2</text>
<text x="176.9" y="1709.7" font-size="22.2" text-anchor="middle" font-weight="bold" stroke="#000" stroke-width="0.5" stroke-linejoin="round" >3</text>
<text x="231.3" y="1709.7" font-size="22.2" text-anchor="middle" font-weight="bold" stroke="#000" stroke-width="0.5" stroke-linejoin="round" >4</text>
<text x="285.7" y="1709.7" font-size="22.2" text-anchor="middle" font-weight="bold" stroke="#000" stroke-width="0.5" stroke-linejoin="round" >5</text>
<text x="340.1" y="1709.7" font-size="22.2" text-anchor="middle" font-weight="bold" stroke="#000" stroke-width="0.5" stroke-linejoin="round" >6</text>
<text x="394.5" y="1709.7" font-size="22.2" text-anchor="middle" font-weight="bold" stroke="#000" stroke-width="0.5" stroke-linejoin="round" >7</text>
<text x="448.9" y="1709.7" font-size="22.2" text-anchor="middle" font-weight="bold" stroke="#000" stroke-width="0.5" stroke-linejoin="round" >8</text>
<text x="503.3" y="1709.7" font-size="22.2" text-anchor="middle" font-weight="bold" stroke="#000" stroke-width="0.5" stroke-linejoin="round" >9</text>
<text x="557.7" y="1709.7" font-size="22.2" text-anchor="middle" font-weight="bold" stroke="#000" stroke-width="0.5" stroke-linejoin="round" >10</text>
<text x="612.1" y="1709.7" font-size="22.2" text-anchor="middle" font-weight="bold" stroke="#000" stroke-width="0.5" stroke-linejoin="round" >11</text>
<text x="666.5" y="1709.7" font-size="22.2" text-anchor="middle" font-weight="bold" stroke="#000" stroke-width="0.5" stroke-linejoin="round" >12</text>
<text x="117.2" y="1692.4" font-size="22.2" text-anchor="end" font-weight="bold" stroke="#000" stroke-width="0.5" stroke-linejoin="round" >0.0</text>
<text x="117.2" y="1632.0333333333333" font-size="22.2" text-anchor="end" font-weight="bold" stroke="#000" stroke-width="0.5" stroke-linejoin="round" >0.2</text>
<text x="117.2" y="1571.6666666666667" font-size="22.2" text-anchor="end" font-weight="bold" stroke="#000" stroke-width="0.5" stroke-linejoin="round" >0.4</text>
<text x="117.2" y="1511.3" font-size="22.2" text-anchor="end" font-weight="bold" stroke="#000" stroke-width="0.5" stroke-linejoin="round" >0.6</text>
<text x="117.2" y="1450.9333333333334" font-size="22.2" text-anchor="end" font-weight="bold" stroke="#000" stroke-width="0.5" stroke-linejoin="round" >0.8</text>
<text x="117.2" y="1390.5666666666666" font-size="22.2" text-anchor="end" font-weight="bold" stroke="#000" stroke-width="0.5" stroke-linejoin="round" >1.0</text>
<text x="117.2" y="1330.2" font-size="22.2" text-anchor="end" font-weight="bold" stroke="#000" stroke-width="0.5" stroke-linejoin="round" >1.2</text>
<text x="4.3" y="1359" font-size="59" text-anchor="start" >D</text>
<text x="66.8" y="1594.5" font-size="26.4" text-anchor="start" font-weight="bold" stroke="#000" stroke-width="0.5" stroke-linejoin="round" textLength="190.3" lengthAdjust="spacingAndGlyphs" transform="rotate(-90 66.8 1594.5)" >Normalized c(s)</text>
<line x1="228.3" y1="1728" x2="228.3" y2="2089" stroke="#969696" stroke-width="3.9" stroke-linecap="butt"/>
<line x1="382.7" y1="1728" x2="382.7" y2="2089" stroke="#969696" stroke-width="3.9" stroke-linecap="butt"/>
<line x1="551" y1="1728" x2="551" y2="2089" stroke="#969696" stroke-width="3.9" stroke-linecap="butt"/>
<path d="M150.0,2088.0C157.9,2087.9 188.4,2088.1 197.7,2087.3C207.0,2086.5 203.8,2085.6 206.0,2083.3C208.2,2081.0 209.5,2077.7 211.0,2073.3C212.5,2068.9 213.8,2063.9 215.0,2056.7C216.2,2049.5 217.3,2040.0 218.3,2030.0C219.3,2020.0 220.1,2007.8 221.0,1996.7C221.9,1985.6 222.9,1973.9 223.7,1963.3C224.5,1952.7 225.1,1944.7 226.0,1933.0C226.9,1921.3 228.4,1906.0 229.3,1893.3C230.2,1880.6 230.9,1868.4 231.7,1856.7C232.5,1845.0 233.4,1832.8 234.3,1823.3C235.2,1813.8 236.2,1805.7 237.2,1800.0C238.1,1794.3 238.9,1789.3 240.0,1789.3C241.1,1789.3 242.4,1794.3 243.5,1800.0C244.6,1805.7 245.5,1814.4 246.3,1823.3C247.1,1832.2 247.7,1842.7 248.5,1853.3C249.3,1863.9 250.1,1876.1 251.0,1886.7C251.9,1897.3 253.0,1909.5 253.7,1916.7C254.4,1923.9 254.2,1922.2 255.0,1930.0C255.8,1937.8 257.0,1952.2 258.3,1963.3C259.6,1974.4 261.0,1985.6 262.7,1996.7C264.4,2007.8 266.2,2020.0 268.3,2030.0C270.4,2040.0 272.5,2049.5 275.0,2056.7C277.5,2063.9 280.2,2069.1 283.3,2073.3C286.4,2077.5 289.4,2079.9 293.3,2081.7C297.2,2083.5 302.0,2083.7 306.7,2084.0C311.4,2084.3 316.7,2084.2 321.7,2083.3C326.7,2082.4 332.0,2081.1 336.7,2078.3C341.4,2075.5 346.1,2069.3 350.0,2066.7C353.9,2064.1 356.7,2063.4 360.0,2062.7C363.3,2062.0 366.7,2062.0 370.0,2062.7C373.3,2063.4 376.7,2064.8 380.0,2066.7C383.3,2068.6 386.7,2071.7 390.0,2074.0C393.3,2076.3 396.1,2078.7 400.0,2080.7C403.9,2082.7 408.9,2084.8 413.3,2086.0C417.8,2087.2 402.2,2087.4 426.7,2087.7C451.1,2088.0 537.8,2087.9 560.0,2088.0" fill="none" stroke="#000" stroke-width="4" stroke-linejoin="round" stroke-linecap="butt" stroke-dasharray="4.3 6.3"/>
<path d="M150.0,2088.0C157.8,2087.9 187.5,2088.1 196.7,2087.3C205.9,2086.5 202.8,2085.6 205.0,2083.3C207.2,2081.0 208.5,2077.7 210.0,2073.3C211.5,2068.9 212.8,2063.9 214.0,2056.7C215.2,2049.5 216.3,2040.0 217.3,2030.0C218.3,2020.0 219.1,2007.8 220.0,1996.7C220.9,1985.6 221.9,1973.9 222.7,1963.3C223.5,1952.7 224.1,1944.7 225.0,1933.0C225.9,1921.3 227.4,1906.0 228.3,1893.3C229.2,1880.6 229.9,1868.4 230.7,1856.7C231.5,1845.0 232.3,1832.8 233.3,1823.3C234.3,1813.8 235.6,1805.7 236.7,1800.0C237.8,1794.3 238.8,1789.3 240.0,1789.3C241.2,1789.3 242.8,1794.3 244.0,1800.0C245.2,1805.7 246.3,1814.4 247.3,1823.3C248.3,1832.2 249.0,1842.7 250.0,1853.3C251.0,1863.9 252.2,1876.1 253.3,1886.7C254.4,1897.3 255.9,1909.0 256.7,1916.7C257.5,1924.4 257.5,1926.3 258.3,1933.0C259.1,1939.7 260.3,1947.2 261.7,1956.7C263.1,1966.2 264.8,1978.9 266.7,1990.0C268.6,2001.1 270.8,2013.8 273.3,2023.3C275.8,2032.8 278.6,2040.3 281.7,2046.7C284.8,2053.1 288.1,2058.1 291.7,2061.7C295.3,2065.3 299.4,2066.9 303.3,2068.3C307.2,2069.7 311.1,2070.2 315.0,2070.0C318.9,2069.8 322.5,2068.4 326.7,2067.3C330.9,2066.2 336.1,2064.8 340.0,2063.5C343.9,2062.2 346.1,2060.6 350.0,2059.3C353.9,2058.1 359.4,2056.4 363.3,2056.0C367.2,2055.6 369.4,2055.8 373.3,2056.7C377.2,2057.6 382.2,2059.5 386.7,2061.7C391.1,2063.9 395.6,2067.4 400.0,2070.0C404.4,2072.6 408.9,2075.2 413.3,2077.3C417.8,2079.4 422.2,2081.4 426.7,2082.7C431.1,2084.0 434.4,2084.3 440.0,2085.0C445.6,2085.7 440.0,2086.3 460.0,2086.7C480.0,2087.1 543.3,2087.4 560.0,2087.5" fill="none" stroke="#000" stroke-width="4" stroke-linejoin="round" stroke-linecap="butt" stroke-dasharray="11.5 8.8"/>
<path d="M124.0,2088.3C128.9,2088.2 145.6,2088.3 153.3,2088.0C161.0,2087.7 165.3,2087.6 170.0,2086.7C174.7,2085.8 178.4,2084.9 181.7,2082.7C185.0,2080.5 187.2,2078.2 190.0,2073.3C192.8,2068.4 195.8,2061.1 198.3,2053.3C200.8,2045.5 202.8,2037.2 205.0,2026.7C207.2,2016.2 209.8,2001.7 211.7,1990.0C213.6,1978.3 215.3,1966.2 216.7,1956.7C218.1,1947.2 218.6,1942.8 220.0,1933.3C221.4,1923.8 223.3,1911.1 225.0,1900.0C226.7,1888.9 228.3,1877.8 230.0,1866.7C231.7,1855.6 233.3,1843.3 235.0,1833.3C236.7,1823.3 238.3,1813.4 240.0,1806.7C241.7,1800.0 243.2,1796.5 245.0,1793.3C246.8,1790.1 248.9,1787.6 251.0,1787.3C253.1,1787.0 255.0,1788.2 257.3,1791.7C259.6,1795.2 262.3,1801.4 265.0,1808.3C267.7,1815.2 270.5,1824.7 273.3,1833.3C276.1,1841.9 278.9,1851.7 281.7,1860.0C284.5,1868.3 287.2,1876.3 290.0,1883.3C292.8,1890.2 295.5,1896.4 298.3,1901.7C301.1,1907.0 303.6,1911.3 306.7,1915.0C309.8,1918.7 313.4,1922.0 316.7,1924.0C320.0,1926.0 323.4,1927.0 326.7,1927.3C330.0,1927.6 333.1,1927.2 336.7,1926.0C340.3,1924.8 344.4,1922.7 348.3,1920.0C352.2,1917.3 355.8,1913.6 360.0,1910.0C364.2,1906.4 369.6,1901.0 373.3,1898.3C377.0,1895.5 379.2,1894.5 382.0,1893.5C384.8,1892.5 387.3,1892.2 390.0,1892.3C392.7,1892.4 395.2,1893.0 398.0,1894.0C400.8,1895.0 403.0,1894.8 406.7,1898.3C410.4,1901.8 415.6,1908.0 420.0,1915.0C424.4,1922.0 428.9,1930.8 433.3,1940.0C437.8,1949.2 442.2,1960.0 446.7,1970.0C451.1,1980.0 455.6,1990.8 460.0,2000.0C464.4,2009.2 468.9,2017.5 473.3,2025.0C477.8,2032.5 482.2,2039.2 486.7,2045.0C491.1,2050.8 495.6,2055.8 500.0,2060.0C504.4,2064.2 508.8,2067.2 513.3,2070.0C517.8,2072.8 522.2,2074.9 526.7,2076.7C531.2,2078.5 535.6,2079.6 540.0,2080.7C544.4,2081.8 547.0,2082.5 553.3,2083.3C559.6,2084.1 568.9,2084.8 578.0,2085.5C587.1,2086.2 593.8,2087.1 608.0,2087.5C622.2,2087.9 653.8,2087.9 663.0,2088.0" fill="none" stroke="#000" stroke-width="4.2" stroke-linejoin="round" stroke-linecap="butt"/>
<rect x="122.5" y="1728" width="542.0" height="361" fill="none" stroke="#000" stroke-width="3.8"/>
<line x1="176.7" y1="1728" x2="176.7" y2="1737.5" stroke="#000" stroke-width="3.6" stroke-linecap="butt"/>
<line x1="176.7" y1="2089" x2="176.7" y2="2079.5" stroke="#000" stroke-width="3.6" stroke-linecap="butt"/>
<line x1="230.9" y1="1728" x2="230.9" y2="1737.5" stroke="#000" stroke-width="3.6" stroke-linecap="butt"/>
<line x1="230.9" y1="2089" x2="230.9" y2="2079.5" stroke="#000" stroke-width="3.6" stroke-linecap="butt"/>
<line x1="285.1" y1="1728" x2="285.1" y2="1737.5" stroke="#000" stroke-width="3.6" stroke-linecap="butt"/>
<line x1="285.1" y1="2089" x2="285.1" y2="2079.5" stroke="#000" stroke-width="3.6" stroke-linecap="butt"/>
<line x1="339.3" y1="1728" x2="339.3" y2="1737.5" stroke="#000" stroke-width="3.6" stroke-linecap="butt"/>
<line x1="339.3" y1="2089" x2="339.3" y2="2079.5" stroke="#000" stroke-width="3.6" stroke-linecap="butt"/>
<line x1="393.5" y1="1728" x2="393.5" y2="1737.5" stroke="#000" stroke-width="3.6" stroke-linecap="butt"/>
<line x1="393.5" y1="2089" x2="393.5" y2="2079.5" stroke="#000" stroke-width="3.6" stroke-linecap="butt"/>
<line x1="447.7" y1="1728" x2="447.7" y2="1737.5" stroke="#000" stroke-width="3.6" stroke-linecap="butt"/>
<line x1="447.7" y1="2089" x2="447.7" y2="2079.5" stroke="#000" stroke-width="3.6" stroke-linecap="butt"/>
<line x1="501.9" y1="1728" x2="501.9" y2="1737.5" stroke="#000" stroke-width="3.6" stroke-linecap="butt"/>
<line x1="501.9" y1="2089" x2="501.9" y2="2079.5" stroke="#000" stroke-width="3.6" stroke-linecap="butt"/>
<line x1="556.1" y1="1728" x2="556.1" y2="1737.5" stroke="#000" stroke-width="3.6" stroke-linecap="butt"/>
<line x1="556.1" y1="2089" x2="556.1" y2="2079.5" stroke="#000" stroke-width="3.6" stroke-linecap="butt"/>
<line x1="610.3" y1="1728" x2="610.3" y2="1737.5" stroke="#000" stroke-width="3.6" stroke-linecap="butt"/>
<line x1="610.3" y1="2089" x2="610.3" y2="2079.5" stroke="#000" stroke-width="3.6" stroke-linecap="butt"/>
<line x1="122.5" y1="2028.8333333333333" x2="132.0" y2="2028.8333333333333" stroke="#000" stroke-width="3.6" stroke-linecap="butt"/>
<line x1="664.5" y1="2028.8333333333333" x2="655.0" y2="2028.8333333333333" stroke="#000" stroke-width="3.6" stroke-linecap="butt"/>
<line x1="122.5" y1="1968.6666666666667" x2="132.0" y2="1968.6666666666667" stroke="#000" stroke-width="3.6" stroke-linecap="butt"/>
<line x1="664.5" y1="1968.6666666666667" x2="655.0" y2="1968.6666666666667" stroke="#000" stroke-width="3.6" stroke-linecap="butt"/>
<line x1="122.5" y1="1908.5" x2="132.0" y2="1908.5" stroke="#000" stroke-width="3.6" stroke-linecap="butt"/>
<line x1="664.5" y1="1908.5" x2="655.0" y2="1908.5" stroke="#000" stroke-width="3.6" stroke-linecap="butt"/>
<line x1="122.5" y1="1848.3333333333333" x2="132.0" y2="1848.3333333333333" stroke="#000" stroke-width="3.6" stroke-linecap="butt"/>
<line x1="664.5" y1="1848.3333333333333" x2="655.0" y2="1848.3333333333333" stroke="#000" stroke-width="3.6" stroke-linecap="butt"/>
<line x1="122.5" y1="1788.1666666666665" x2="132.0" y2="1788.1666666666665" stroke="#000" stroke-width="3.6" stroke-linecap="butt"/>
<line x1="664.5" y1="1788.1666666666665" x2="655.0" y2="1788.1666666666665" stroke="#000" stroke-width="3.6" stroke-linecap="butt"/>
<text x="122.5" y="2112.5" font-size="22.2" text-anchor="middle" font-weight="bold" stroke="#000" stroke-width="0.5" stroke-linejoin="round" >2</text>
<text x="176.7" y="2112.5" font-size="22.2" text-anchor="middle" font-weight="bold" stroke="#000" stroke-width="0.5" stroke-linejoin="round" >3</text>
<text x="230.9" y="2112.5" font-size="22.2" text-anchor="middle" font-weight="bold" stroke="#000" stroke-width="0.5" stroke-linejoin="round" >4</text>
<text x="285.1" y="2112.5" font-size="22.2" text-anchor="middle" font-weight="bold" stroke="#000" stroke-width="0.5" stroke-linejoin="round" >5</text>
<text x="339.3" y="2112.5" font-size="22.2" text-anchor="middle" font-weight="bold" stroke="#000" stroke-width="0.5" stroke-linejoin="round" >6</text>
<text x="393.5" y="2112.5" font-size="22.2" text-anchor="middle" font-weight="bold" stroke="#000" stroke-width="0.5" stroke-linejoin="round" >7</text>
<text x="447.7" y="2112.5" font-size="22.2" text-anchor="middle" font-weight="bold" stroke="#000" stroke-width="0.5" stroke-linejoin="round" >8</text>
<text x="501.9" y="2112.5" font-size="22.2" text-anchor="middle" font-weight="bold" stroke="#000" stroke-width="0.5" stroke-linejoin="round" >9</text>
<text x="556.1" y="2112.5" font-size="22.2" text-anchor="middle" font-weight="bold" stroke="#000" stroke-width="0.5" stroke-linejoin="round" >10</text>
<text x="610.3" y="2112.5" font-size="22.2" text-anchor="middle" font-weight="bold" stroke="#000" stroke-width="0.5" stroke-linejoin="round" >11</text>
<text x="664.5" y="2112.5" font-size="22.2" text-anchor="middle" font-weight="bold" stroke="#000" stroke-width="0.5" stroke-linejoin="round" >12</text>
<text x="117.2" y="2097.0" font-size="22.2" text-anchor="end" font-weight="bold" stroke="#000" stroke-width="0.5" stroke-linejoin="round" >0.0</text>
<text x="117.2" y="2036.8333333333333" font-size="22.2" text-anchor="end" font-weight="bold" stroke="#000" stroke-width="0.5" stroke-linejoin="round" >0.2</text>
<text x="117.2" y="1976.6666666666667" font-size="22.2" text-anchor="end" font-weight="bold" stroke="#000" stroke-width="0.5" stroke-linejoin="round" >0.4</text>
<text x="117.2" y="1916.5" font-size="22.2" text-anchor="end" font-weight="bold" stroke="#000" stroke-width="0.5" stroke-linejoin="round" >0.6</text>
<text x="117.2" y="1856.3333333333333" font-size="22.2" text-anchor="end" font-weight="bold" stroke="#000" stroke-width="0.5" stroke-linejoin="round" >0.8</text>
<text x="117.2" y="1796.1666666666665" font-size="22.2" text-anchor="end" font-weight="bold" stroke="#000" stroke-width="0.5" stroke-linejoin="round" >1.0</text>
<text x="117.2" y="1736.0" font-size="22.2" text-anchor="end" font-weight="bold" stroke="#000" stroke-width="0.5" stroke-linejoin="round" >1.2</text>
<text x="4.3" y="1764" font-size="59" text-anchor="start" >E</text>
<text x="66.8" y="1999.1" font-size="26.4" text-anchor="start" font-weight="bold" stroke="#000" stroke-width="0.5" stroke-linejoin="round" textLength="190.3" lengthAdjust="spacingAndGlyphs" transform="rotate(-90 66.8 1999.1)" >Normalized c(s)</text>
<text x="218.5" y="2148" font-size="26.5" text-anchor="start" font-weight="bold" stroke="#000" stroke-width="0.5" stroke-linejoin="round" textLength="364.5" lengthAdjust="spacingAndGlyphs" >Sedimentation Coefficient (S)</text>
</svg>
</body></html>
